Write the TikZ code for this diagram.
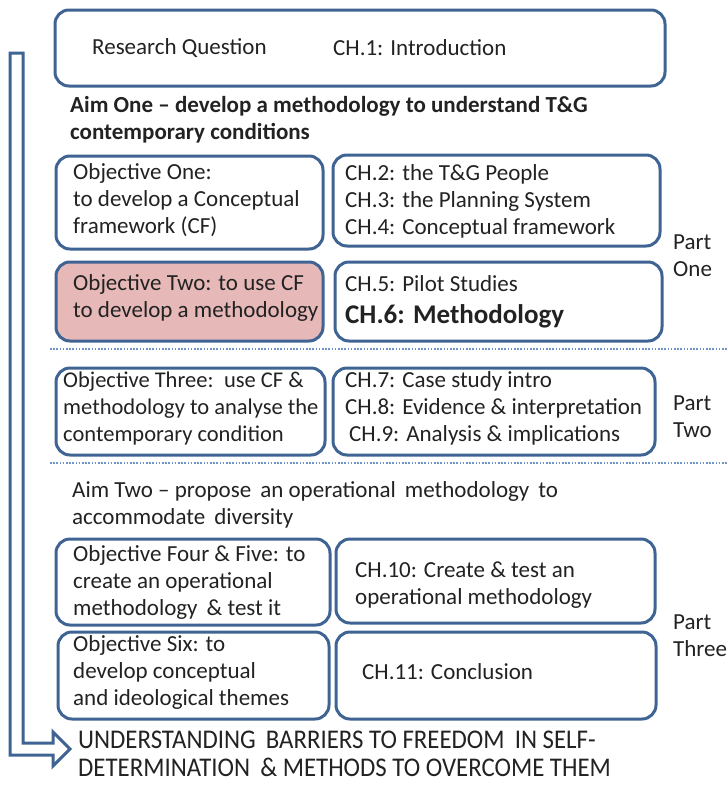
\documentclass[tikz,border=0pt]{standalone}
\usepackage{fontspec}
\setmainfont{Carlito}
\newfontfamily\outfont[FakeStretch=0.92]{Carlito}
\usetikzlibrary{fit}
\definecolor{edge}{HTML}{3F6392}
\definecolor{pinkfill}{HTML}{E6B9B8}
\definecolor{ink}{HTML}{222222}
\definecolor{dotline}{HTML}{6F93C4}
\tikzset{
  box/.style={draw=edge, line width=3pt, rounded corners=14pt, inner sep=0pt},
  txt/.style={anchor=west, align=left, inner sep=0pt, text=ink,
    font=\fontsize{23}{27}\selectfont},
  parttxt/.style={txt},
  sep/.style={dotline, line width=2pt, dash pattern=on 1.6pt off 1.6pt},
}
\begin{document}
\begin{tikzpicture}[x=1pt, y=-1pt]
\useasboundingbox (0,0) rectangle (728,785);

% top box
\node[box, fit={(55,10) (665,86)}] (rq) {};
\node[txt] (rqt) at (92,48) {Research Question};
\node[txt] (ch1) at (333,48) {CH.1: Introduction};

% aim one
\node[txt, font=\bfseries\fontsize{23}{27}\selectfont] (aim1) at (70,120)
  {Aim One -- develop a methodology to understand T\&G\\contemporary conditions};

% part one
\node[box, fit={(56,156) (323,249)}] (o1) {};
\node[txt] (o1t) at (73,200) {Objective One:\\to develop a Conceptual\\framework (CF)};
\node[box, fit={(333,155) (660,246)}] (c1) {};
\node[txt] (c1t) at (345,201) {CH.2: the T\&G People\\CH.3: the Planning System\\CH.4: Conceptual framework};

\node[box, fill=pinkfill, fit={(56,262) (323,341)}] (o2) {};
\node[txt] (o2t) at (73,298) {Objective Two: to use CF\\to develop a methodology};
\node[box, fit={(335,262) (662,341)}] (c2) {};
\node[txt] (c5t) at (345,284) {CH.5: Pilot Studies};
\node[txt, font=\bfseries\fontsize{27}{30}\selectfont] (c6t) at (345,316) {CH.6: Methodology};

\node[parttxt] (p1) at (673,256) {Part\\One};

\draw[sep] (50,349) -- (728,349);

% part two
\node[box, fit={(56,368) (325,455)}] (o3) {};
\node[txt, font=\fontsize{22.5}{27}\selectfont] (o3t) at (63,408) {Objective Three:\, use CF \&\\methodology to analyse the\\contemporary condition};
\node[box, fit={(333,368) (655,455)}] (c3) {};
\node[txt] (c3t) at (345,408) {CH.7: Case study intro\\CH.8: Evidence \& interpretation\\\hspace{4pt}CH.9: Analysis \& implications};

\node[parttxt] (p2) at (673,417) {Part\\Two};

\draw[sep] (50,463) -- (728,463);

% aim two
\node[txt] (aim2) at (72,505) {Aim Two -- propose\, an operational\, methodology\, to\\accommodate\, diversity};

% part three
\node[box, fit={(56,539) (330,625)}] (o4) {};
\node[txt] (o4t) at (73,582) {Objective Four \& Five: to\\create an operational\\methodology\, \& test it};
\node[box, fit={(336,539) (655,623)}] (c4) {};
\node[txt] (c4t) at (355,585) {CH.10: Create \& test an\\operational methodology};

\node[box, fit={(58,632) (329,719)}] (o5) {};
\node[txt] (o5t) at (73,672) {Objective Six: to\\develop conceptual\\and ideological themes};
\node[box, fit={(336,632) (656,719)}] (c5) {};
\node[txt] (c5t2) at (362,672) {CH.11: Conclusion};

\node[parttxt] (p3) at (673,636) {Part\\Three};

% outcome
\node[txt, font=\outfont\fontsize{27}{28}\selectfont] (out) at (78,754)
  {UNDERSTANDING\, BARRIERS TO FREEDOM\, IN SELF-\\DETERMINATION\, \& METHODS TO OVERCOME THEM};

% hollow flow arrow down the left side
\draw[edge, line width=3pt, line join=miter]
  (10,53) -- (23,53) -- (23,743) -- (53,743) -- (53,732) -- (70,749)
  -- (53,766) -- (53,755) -- (10,755) -- cycle;
\end{tikzpicture}
\end{document}
